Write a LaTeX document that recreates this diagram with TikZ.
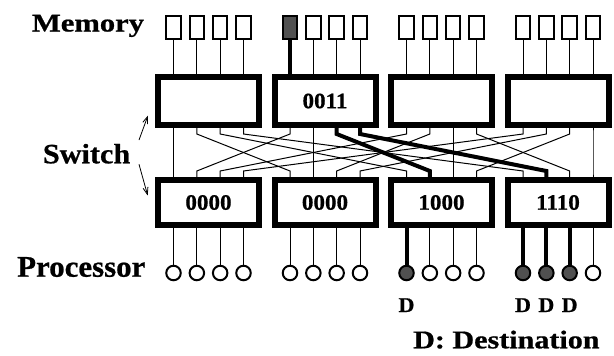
\documentclass[tikz,border=0pt]{standalone}
\usepackage{fontspec}
\setmainfont{Liberation Serif}[BoldFeatures={FakeBold=0.7}]
\usetikzlibrary{calc,arrows.meta}
\definecolor{hotfill}{HTML}{505050}
\begin{document}
\begin{tikzpicture}[x=1pt,y=-1pt,
  sw/.style={draw,line width=4pt,fill=white,minimum width=99pt,inner sep=0pt,
    font=\bfseries\fontsize{22}{22}\selectfont},
  swtop/.style={sw,minimum height=46pt},
  swbot/.style={sw,minimum height=43pt},
  mem/.style={draw,line width=2pt,fill=white,minimum width=14.5pt,minimum height=23pt,inner sep=0pt},
  memon/.style={mem,fill=hotfill},
  proc/.style={circle,draw,line width=2pt,fill=white,minimum size=14.5pt,inner sep=0pt},
  procon/.style={proc,fill=hotfill},
  wire/.style={line width=1pt},
  hot/.style={line width=4pt},
  lbl/.style={inner sep=0pt,anchor=base west,font=\bfseries},
  dlbl/.style={inner sep=0pt,anchor=base,font=\bfseries\fontsize{21}{21}\selectfont},
  pointer/.style={line width=0.8pt,-{Straight Barb[length=7pt,width=5pt]}}
]
\useasboundingbox (0,0) rectangle (614,356);

% switch boxes
\node[swtop] (T0) at (208.5,101) {};
\node[swtop] (T1) at (325,101) {\scalebox{1.05}[1]{0011}};
\node[swtop] (T2) at (441.5,101) {};
\node[swtop] (T3) at (558,101) {};
\node[swbot] (B0) at (208.5,202.5) {\scalebox{1.05}[1]{0000}};
\node[swbot] (B1) at (325,202.5) {\scalebox{1.05}[1]{0000}};
\node[swbot] (B2) at (441.5,202.5) {\scalebox{1.05}[1]{1000}};
\node[swbot] (B3) at (558,202.5) {\scalebox{1.05}[1]{1110}};

% memories and processors
\foreach \k in {0,...,3}{
  \foreach \j in {0,...,3}{
    \pgfmathtruncatemacro\id{10*\k+\j}
    \pgfmathtruncatemacro\ph{(\id==20)||(\id==30)||(\id==31)||(\id==32)}
    \ifnum\id=10
      \node[memon] (M\k\j) at ({173.5+116.5*\k+23.333*\j},27.5) {};
      \draw[hot] (M\k\j.south) -- (M\k\j.south |- T\k.north);
    \else
      \node[mem] (M\k\j) at ({173.5+116.5*\k+23.333*\j},27.5) {};
      \draw[wire] (M\k\j.south) -- (M\k\j.south |- T\k.north);
    \fi
    \ifnum\ph=1
      \node[procon] (P\k\j) at ({173.5+116.5*\k+23.333*\j},273) {};
      \draw[hot] (B\k.south -| P\k\j) -- (P\k\j.north);
    \else
      \node[proc] (P\k\j) at ({173.5+116.5*\k+23.333*\j},273) {};
      \draw[wire] (B\k.south -| P\k\j) -- (P\k\j.north);
    \fi
  }
}

% interconnection: top box k port j -> bottom box j port k
\foreach \k in {0,...,3}{
  \foreach \j in {0,...,3}{
    \pgfmathtruncatemacro\id{10*\k+\j}
    \pgfmathtruncatemacro\ih{(\id==12)||(\id==13)}
    \ifnum\ih=0
      \draw[wire] (T\k.south -| M\k\j) -- ++(0,8)
        -- ($(B\j.north -| M\j\k)+(0,-8)$) -- (B\j.north -| M\j\k);
    \fi
  }
}
\draw[hot] (T1.south -| M12) -- ++(0,8)
  -- ($(B2.north -| M21)+(0,-8)$) -- (B2.north -| M21);
\draw[hot] (T1.south -| M13) -- ++(0,8)
  -- ($(B3.north -| M31)+(0,-8)$) -- (B3.north -| M31);

% redraw boxes borders over wire ends
\foreach \n in {T0,T1,T2,T3,B0,B1,B2,B3}{
  \draw[line width=4pt] (\n.south west) rectangle (\n.north east);
}

% labels
\node[lbl,font=\bfseries\fontsize{25.5}{25.5}\selectfont] (memlbl) at (31.7,31.5) {\scalebox{1.2}[1]{Memory}};
\node[lbl,font=\bfseries\fontsize{28}{28}\selectfont] (swlbl) at (42.7,163.3) {\scalebox{1.08}[1]{Switch}};
\node[lbl,font=\bfseries\fontsize{30}{30}\selectfont] (prlbl) at (17,276.7) {\scalebox{1.03}[1]{Processor}};
\node[lbl,font=\bfseries\fontsize{25.5}{25.5}\selectfont] (dest) at (413,348.3) {\scalebox{1.18}[1]{D: Destination}};

\node[dlbl] (d20) at (P20 |- 0,312) {\scalebox{1.05}[1]{D}};
\node[dlbl] (d30) at (P30 |- 0,312) {\scalebox{1.05}[1]{D}};
\node[dlbl] (d31) at (P31 |- 0,312) {\scalebox{1.05}[1]{D}};
\node[dlbl] (d32) at (P32 |- 0,312) {\scalebox{1.05}[1]{D}};

% switch pointers
\coordinate (a1s) at (139,140);
\coordinate (a1e) at (148,115.5);
\coordinate (a2s) at (139,164.3);
\coordinate (a2e) at (147.7,195.5);
\draw[pointer] (a1s) -- (a1e);
\draw[pointer] (a2s) -- (a2e);
\end{tikzpicture}
\end{document}
